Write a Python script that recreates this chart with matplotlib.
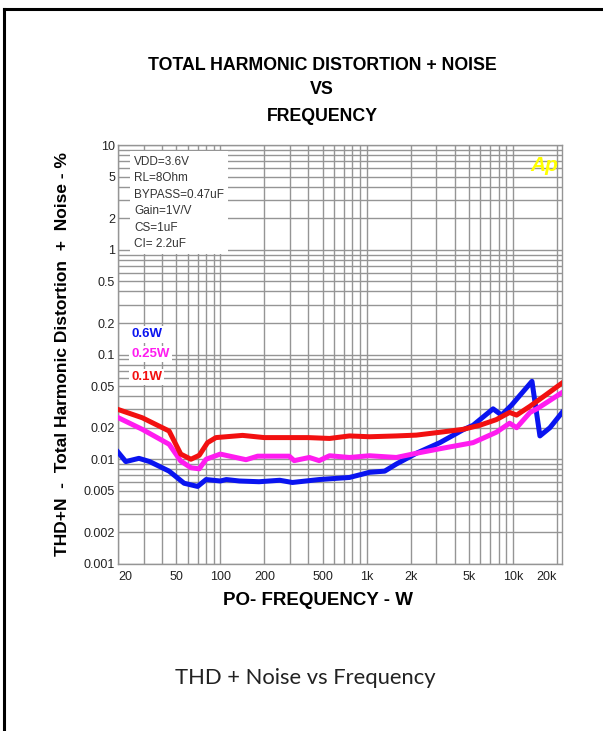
import matplotlib
matplotlib.use('Agg')
from matplotlib import pyplot as plt
from matplotlib.ticker import FixedLocator, NullFormatter, LogLocator
import numpy as np

# readings (frequency in Hz, THD+N in %)
freq_06 = [20, 22.6, 27.8, 32.9, 44.7, 56.6, 70, 80, 100, 110, 135, 184, 255, 311,
           474, 764, 1046, 1330, 1598, 2186, 3168, 4560, 5340, 7320, 8360, 9760,
           13500, 15300, 17900, 21700]
thd_06 = [0.0117, 0.0095, 0.0102, 0.0095, 0.0077, 0.0059, 0.0055, 0.0064, 0.0062,
          0.0064, 0.0062, 0.0061, 0.0063, 0.0060, 0.0064, 0.0067, 0.0075, 0.0077,
          0.0090, 0.0114, 0.0144, 0.0191, 0.0211, 0.0303, 0.0264, 0.0327, 0.0555,
          0.0167, 0.0200, 0.0280]

freq_025 = [20, 29.3, 44.7, 53.7, 63, 71.8, 80, 100, 150, 180, 296, 320, 406, 474,
            558, 764, 1046, 1598, 2186, 3168, 5340, 7700, 9500, 10600, 13100, 14600,
            21700]
thd_025 = [0.0250, 0.0193, 0.0139, 0.0096, 0.0083, 0.0081, 0.0100, 0.0112, 0.0099,
           0.0107, 0.0107, 0.0097, 0.0104, 0.0097, 0.0108, 0.0104, 0.0108, 0.0104,
           0.0114, 0.0126, 0.0144, 0.0181, 0.0221, 0.0200, 0.0280, 0.0303, 0.0434]

freq_01 = [20, 29.3, 44.7, 53.7, 63, 71.8, 81.8, 93.4, 142, 200, 400, 558, 764,
           1046, 1598, 2186, 3168, 4560, 5930, 7700, 9500, 10600, 13100, 17000, 21700]
thd_01 = [0.0299, 0.0249, 0.0186, 0.0112, 0.0100, 0.0109, 0.0144, 0.0161, 0.0169,
          0.0161, 0.0161, 0.0158, 0.0167, 0.0164, 0.0167, 0.0170, 0.0181, 0.0193,
          0.0211, 0.0239, 0.0280, 0.0264, 0.0321, 0.0417, 0.0535]

xticks = [20, 50, 100, 200, 500, 1000, 2000, 5000, 10000, 20000]
xticklabels = ['20', '50', '100', '200', '500', '1k', '2k', '5k', '10k', '20k']
yticks = [10, 5, 2, 1, 0.5, 0.2, 0.1, 0.05, 0.02, 0.01, 0.005, 0.002, 0.001]
yticklabels = ['10', '5', '2', '1', '0.5', '0.2', '0.1', '0.05', '0.02', '0.01',
               '0.005', '0.002', '0.001']

conditions = ['VDD=3.6V', 'RL=8Ohm', 'BYPASS=0.47uF', 'Gain=1V/V', 'CS=1uF', 'CI= 2.2uF']

plt.rcParams['font.family'] = ['Liberation Sans', 'DejaVu Sans']

fig = plt.figure(figsize=(6.03, 7.31), dpi=100)

# outer page frame (left and top edges only)
fig.add_artist(plt.Line2D([0.0066, 0.0066], [0, 0.988], color='black', lw=2.2,
                          transform=fig.transFigure))
fig.add_artist(plt.Line2D([0.0066, 1.0], [0.988, 0.988], color='black', lw=2.2,
                          transform=fig.transFigure))

ax = fig.add_axes([0.1957, 0.2285, 0.737, 0.573])
ax.set_xscale('log')
ax.set_yscale('log')
ax.set_xlim(20, 21800)
ax.set_ylim(0.001, 10)

grid_col = '#959595'
ax.xaxis.set_major_locator(FixedLocator(xticks))
ax.xaxis.set_minor_locator(LogLocator(base=10, subs=np.arange(1, 10)))
ax.yaxis.set_major_locator(FixedLocator(yticks))
ax.yaxis.set_minor_locator(LogLocator(base=10, subs=np.arange(1, 10)))
ax.xaxis.set_minor_formatter(NullFormatter())
ax.yaxis.set_minor_formatter(NullFormatter())
ax.grid(True, which='both', color=grid_col, lw=1.0)
ax.set_axisbelow(True)
for s in ax.spines.values():
    s.set_color(grid_col)
    s.set_linewidth(1.0)

ax.set_xticks(xticks)
xl = ax.set_xticklabels(xticklabels, fontsize=9, color='#222222')
xl[0].set_horizontalalignment('left')
xl[-1].set_horizontalalignment('right')
ax.set_yticks(yticks)
ax.set_yticklabels(yticklabels, fontsize=9, color='#222222')
ax.tick_params(which='both', length=0)
ax.tick_params(axis='x', pad=5)
ax.tick_params(axis='y', pad=2)

ax.plot(freq_06, thd_06, color='#0a14f0', lw=3.6, zorder=3)
ax.plot(freq_025, thd_025, color='#ff1cf0', lw=3.6, zorder=3)
ax.plot(freq_01, thd_01, color='#f21010', lw=3.6, zorder=4)

# conditions box
ax.text(0.036, 0.975, '\n'.join(conditions), transform=ax.transAxes, ha='left', va='top',
        fontsize=8.5, color='#333333', linespacing=1.5,
        bbox=dict(facecolor='white', edgecolor='none', pad=3), zorder=5)

# series labels
ax.text(0.03, 0.548, '0.6W', transform=ax.transAxes, color='#0a14f0', fontsize=9.5,
        fontweight='bold', va='center', zorder=5,
        bbox=dict(facecolor='white', edgecolor='none', pad=1.5))
ax.text(0.03, 0.502, '0.25W', transform=ax.transAxes, color='#ff1cf0', fontsize=9.5,
        fontweight='bold', va='center', zorder=5,
        bbox=dict(facecolor='white', edgecolor='none', pad=1.5))
ax.text(0.03, 0.447, '0.1W', transform=ax.transAxes, color='#f21010', fontsize=9.5,
        fontweight='bold', va='center', zorder=5,
        bbox=dict(facecolor='white', edgecolor='none', pad=1.5))

ax.text(0.99, 0.975, 'Ap', transform=ax.transAxes, color='#ffff00', fontsize=15,
        fontweight='bold', style='italic', ha='right', va='top', zorder=5)

fig.text(0.534, 0.911, 'TOTAL HARMONIC DISTORTION + NOISE', ha='center', va='center',
         fontsize=12.8, fontweight='bold')
fig.text(0.534, 0.878, 'VS', ha='center', va='center', fontsize=12.8, fontweight='bold')
fig.text(0.534, 0.841, 'FREQUENCY', ha='center', va='center', fontsize=12.8,
         fontweight='bold')

fig.text(0.103, 0.516, 'THD+N  -  Total Harmonic Distortion  +  Noise - %', rotation=90,
         ha='center', va='center', fontsize=12.5, fontweight='bold')
fig.text(0.527, 0.179, 'PO- FREQUENCY - W', ha='center', va='center', fontsize=13.5,
         fontweight='bold')

fig.text(0.506, 0.073, 'THD + Noise vs Frequency', ha='center', va='center',
         fontsize=15.8, family=['Lato', 'DejaVu Sans'], color='#222222')

fig.savefig('out.png', dpi=100)
